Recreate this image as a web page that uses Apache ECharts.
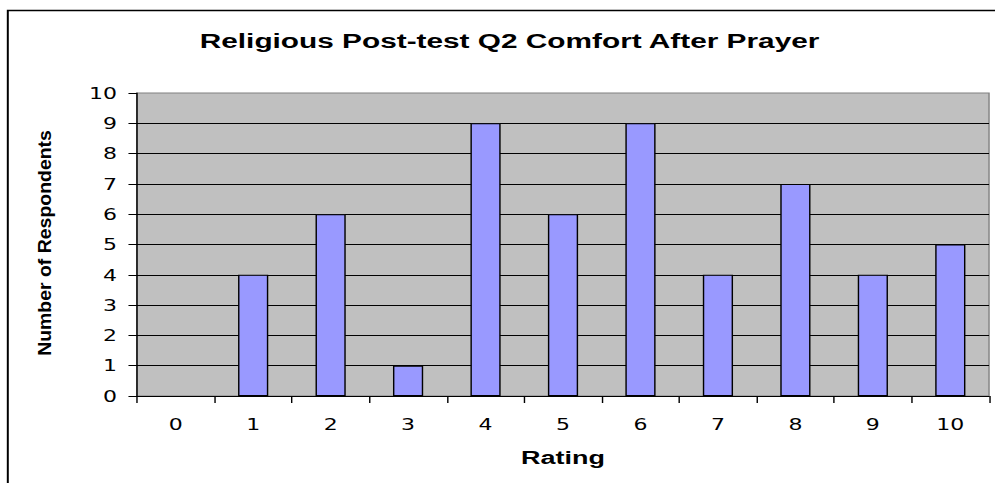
<!DOCTYPE html>
<html>
<head>
<meta charset="utf-8">
<script src="https://cdn.jsdelivr.net/npm/echarts@6/dist/echarts.min.js"></script>
<style>
  html, body { margin: 0; padding: 0; background: #fff; overflow: hidden; }
  /* the source picture is stretched sideways, so draw narrow and stretch */
  #chart { width: 701px; height: 483px; transform: scaleX(1.4194); transform-origin: 0 0; }
</style>
</head>
<body>
<div id="chart"></div>
<script>
var ratings = ['0', '1', '2', '3', '4', '5', '6', '7', '8', '9', '10'];
var respondents = [0, 4, 6, 1, 9, 6, 9, 4, 7, 4, 5];

var chart = echarts.init(document.getElementById('chart'), null, { renderer: 'svg' });

// empty bars get no outline, like the original
var barData = respondents.map(function (v) {
  return v === 0 ? { value: v, itemStyle: { borderWidth: 0 } } : v;
});

var option = {
  backgroundColor: '#fff',
  animation: false,
  title: {
    text: 'Religious Post-test Q2 Comfort After Prayer',
    left: 354,
    textAlign: 'center',
    top: 25,
    textStyle: { fontFamily: 'Liberation Sans, Arial', fontWeight: 'bold', fontSize: 21, color: '#000' }
  },
  graphic: [
    {
      type: 'rect',
      silent: true,
      shape: { x: 5.5, y: 10.5, width: 900, height: 700 },
      style: { fill: 'none', stroke: '#000', lineWidth: 1.4 }
    },
    {
      type: 'text',
      silent: true,
      x: 31.5,
      y: 243,
      rotation: Math.PI / 2,
      scaleX: 1.44,
      style: {
        text: 'Number of Respondents',
        fontFamily: 'Liberation Sans, Arial',
        fontWeight: 'bold',
        fontSize: 13.5,
        fill: '#000',
        align: 'center',
        verticalAlign: 'middle'
      }
    }
  ],
  grid: {
    left: 96.5,
    right: 4.2,
    top: 93,
    bottom: 87,
    show: true,
    backgroundColor: '#C0C0C0',
    borderColor: '#808080',
    borderWidth: 1
  },
  xAxis: {
    type: 'category',
    data: ratings,
    boundaryGap: true,
    name: 'Rating',
    nameLocation: 'middle',
    nameGap: 52,
    nameTextStyle: { fontFamily: 'Liberation Sans, Arial', fontWeight: 'bold', fontSize: 19, color: '#000' },
    axisLine: { lineStyle: { color: '#000', width: 1 } },
    axisTick: { show: true, length: 7, interval: 0, lineStyle: { color: '#000' } },
    axisLabel: { margin: 20, interval: 0, fontFamily: 'DejaVu Sans', fontSize: 15.5, color: '#000' },
    splitLine: { show: false }
  },
  yAxis: {
    type: 'value',
    min: 0,
    max: 10,
    interval: 1,
    axisLine: { show: true, lineStyle: { color: '#000', width: 1 } },
    axisTick: { show: true, length: 6, lineStyle: { color: '#000' } },
    axisLabel: { margin: 14, fontFamily: 'DejaVu Sans', fontSize: 15.5, color: '#000' },
    splitLine: { show: true, showMaxLine: false, lineStyle: { color: '#000', width: 1 } }
  },
  series: [{
    type: 'bar',
    data: barData,
    barWidth: '39%',
    itemStyle: { color: '#9999FF', borderColor: '#000', borderWidth: 1 }
  }]
};

chart.setOption(option);
</script>
</body>
</html>
